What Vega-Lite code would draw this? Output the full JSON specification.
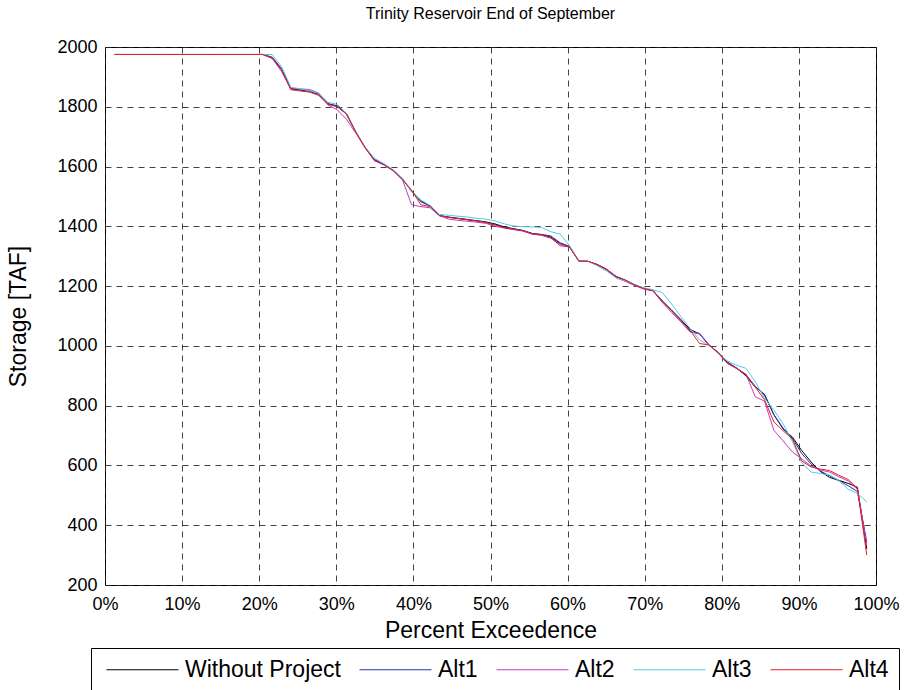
{
  "$schema": "https://vega.github.io/schema/vega-lite/v6.json",
  "width": 771,
  "height": 538,
  "autosize": "none",
  "padding": {"left": 105, "top": 47, "right": 33, "bottom": 105},
  "background": "white",
  "title": {"text": "Trinity Reservoir End of September", "fontSize": 16, "font": "Liberation Sans", "fontWeight": "normal", "color": "#000", "offset": 16, "anchor": "middle"},
  "data": {"values": [
    {"p": 1.20, "Without Project": 1975, "Alt1": 1975, "Alt2": 1975, "Alt3": 1975, "Alt4": 1975},
    {"p": 2.41, "Without Project": 1975, "Alt1": 1975, "Alt2": 1975, "Alt3": 1975, "Alt4": 1975},
    {"p": 3.61, "Without Project": 1975, "Alt1": 1975, "Alt2": 1975, "Alt3": 1975, "Alt4": 1975},
    {"p": 4.82, "Without Project": 1975, "Alt1": 1975, "Alt2": 1975, "Alt3": 1975, "Alt4": 1975},
    {"p": 6.02, "Without Project": 1975, "Alt1": 1975, "Alt2": 1975, "Alt3": 1975, "Alt4": 1975},
    {"p": 7.23, "Without Project": 1975, "Alt1": 1975, "Alt2": 1975, "Alt3": 1975, "Alt4": 1975},
    {"p": 8.43, "Without Project": 1975, "Alt1": 1975, "Alt2": 1975, "Alt3": 1975, "Alt4": 1975},
    {"p": 9.64, "Without Project": 1975, "Alt1": 1975, "Alt2": 1975, "Alt3": 1975, "Alt4": 1975},
    {"p": 10.84, "Without Project": 1975, "Alt1": 1975, "Alt2": 1975, "Alt3": 1975, "Alt4": 1975},
    {"p": 12.05, "Without Project": 1975, "Alt1": 1975, "Alt2": 1975, "Alt3": 1975, "Alt4": 1975},
    {"p": 13.25, "Without Project": 1975, "Alt1": 1975, "Alt2": 1975, "Alt3": 1975, "Alt4": 1975},
    {"p": 14.46, "Without Project": 1975, "Alt1": 1975, "Alt2": 1975, "Alt3": 1975, "Alt4": 1975},
    {"p": 15.66, "Without Project": 1975, "Alt1": 1975, "Alt2": 1975, "Alt3": 1975, "Alt4": 1975},
    {"p": 16.87, "Without Project": 1975, "Alt1": 1975, "Alt2": 1975, "Alt3": 1975, "Alt4": 1975},
    {"p": 18.07, "Without Project": 1975, "Alt1": 1975, "Alt2": 1975, "Alt3": 1975, "Alt4": 1975},
    {"p": 19.28, "Without Project": 1975, "Alt1": 1975, "Alt2": 1975, "Alt3": 1975, "Alt4": 1975},
    {"p": 20.48, "Without Project": 1975, "Alt1": 1975, "Alt2": 1975, "Alt3": 1975, "Alt4": 1975},
    {"p": 21.69, "Without Project": 1964, "Alt1": 1966, "Alt2": 1962, "Alt3": 1975, "Alt4": 1962},
    {"p": 22.89, "Without Project": 1925, "Alt1": 1928, "Alt2": 1918, "Alt3": 1935, "Alt4": 1924},
    {"p": 24.10, "Without Project": 1860, "Alt1": 1862, "Alt2": 1860, "Alt3": 1866, "Alt4": 1857},
    {"p": 25.30, "Without Project": 1856, "Alt1": 1858, "Alt2": 1860, "Alt3": 1860, "Alt4": 1853},
    {"p": 26.51, "Without Project": 1852, "Alt1": 1854, "Alt2": 1858, "Alt3": 1854, "Alt4": 1849},
    {"p": 27.71, "Without Project": 1842, "Alt1": 1843, "Alt2": 1846, "Alt3": 1845, "Alt4": 1838},
    {"p": 28.92, "Without Project": 1810, "Alt1": 1810, "Alt2": 1806, "Alt3": 1815, "Alt4": 1808},
    {"p": 30.12, "Without Project": 1803, "Alt1": 1802, "Alt2": 1790, "Alt3": 1808, "Alt4": 1800},
    {"p": 31.33, "Without Project": 1775, "Alt1": 1775, "Alt2": 1758, "Alt3": 1778, "Alt4": 1776},
    {"p": 32.53, "Without Project": 1716, "Alt1": 1716, "Alt2": 1712, "Alt3": 1718, "Alt4": 1715},
    {"p": 33.73, "Without Project": 1664, "Alt1": 1664, "Alt2": 1662, "Alt3": 1665, "Alt4": 1664},
    {"p": 34.94, "Without Project": 1622, "Alt1": 1624, "Alt2": 1620, "Alt3": 1628, "Alt4": 1620},
    {"p": 36.14, "Without Project": 1608, "Alt1": 1608, "Alt2": 1606, "Alt3": 1610, "Alt4": 1606},
    {"p": 37.35, "Without Project": 1588, "Alt1": 1588, "Alt2": 1586, "Alt3": 1590, "Alt4": 1587},
    {"p": 38.55, "Without Project": 1560, "Alt1": 1560, "Alt2": 1558, "Alt3": 1562, "Alt4": 1556},
    {"p": 39.76, "Without Project": 1518, "Alt1": 1518, "Alt2": 1472, "Alt3": 1515, "Alt4": 1521},
    {"p": 40.96, "Without Project": 1486, "Alt1": 1482, "Alt2": 1466, "Alt3": 1488, "Alt4": 1472},
    {"p": 42.17, "Without Project": 1468, "Alt1": 1468, "Alt2": 1462, "Alt3": 1470, "Alt4": 1466},
    {"p": 43.37, "Without Project": 1436, "Alt1": 1436, "Alt2": 1436, "Alt3": 1440, "Alt4": 1436},
    {"p": 44.58, "Without Project": 1431, "Alt1": 1430, "Alt2": 1424, "Alt3": 1437, "Alt4": 1430},
    {"p": 45.78, "Without Project": 1427, "Alt1": 1426, "Alt2": 1420, "Alt3": 1434, "Alt4": 1426},
    {"p": 46.99, "Without Project": 1423, "Alt1": 1422, "Alt2": 1417, "Alt3": 1431, "Alt4": 1422},
    {"p": 48.19, "Without Project": 1419, "Alt1": 1418, "Alt2": 1414, "Alt3": 1427, "Alt4": 1418},
    {"p": 49.40, "Without Project": 1415, "Alt1": 1413, "Alt2": 1410, "Alt3": 1424, "Alt4": 1413},
    {"p": 50.60, "Without Project": 1408, "Alt1": 1405, "Alt2": 1400, "Alt3": 1418, "Alt4": 1404},
    {"p": 51.81, "Without Project": 1398, "Alt1": 1396, "Alt2": 1394, "Alt3": 1408, "Alt4": 1395},
    {"p": 53.01, "Without Project": 1392, "Alt1": 1391, "Alt2": 1389, "Alt3": 1401, "Alt4": 1390},
    {"p": 54.22, "Without Project": 1386, "Alt1": 1386, "Alt2": 1384, "Alt3": 1399, "Alt4": 1385},
    {"p": 55.42, "Without Project": 1376, "Alt1": 1376, "Alt2": 1374, "Alt3": 1398, "Alt4": 1374},
    {"p": 56.63, "Without Project": 1372, "Alt1": 1373, "Alt2": 1370, "Alt3": 1396, "Alt4": 1371},
    {"p": 57.83, "Without Project": 1364, "Alt1": 1368, "Alt2": 1360, "Alt3": 1382, "Alt4": 1362},
    {"p": 59.04, "Without Project": 1342, "Alt1": 1345, "Alt2": 1340, "Alt3": 1374, "Alt4": 1335},
    {"p": 60.24, "Without Project": 1332, "Alt1": 1333, "Alt2": 1331, "Alt3": 1336, "Alt4": 1331},
    {"p": 61.45, "Without Project": 1284, "Alt1": 1284, "Alt2": 1284, "Alt3": 1286, "Alt4": 1284},
    {"p": 62.65, "Without Project": 1283, "Alt1": 1283, "Alt2": 1283, "Alt3": 1283, "Alt4": 1283},
    {"p": 63.86, "Without Project": 1272, "Alt1": 1272, "Alt2": 1270, "Alt3": 1268, "Alt4": 1272},
    {"p": 65.06, "Without Project": 1256, "Alt1": 1256, "Alt2": 1254, "Alt3": 1250, "Alt4": 1256},
    {"p": 66.27, "Without Project": 1232, "Alt1": 1233, "Alt2": 1228, "Alt3": 1228, "Alt4": 1232},
    {"p": 67.47, "Without Project": 1220, "Alt1": 1220, "Alt2": 1216, "Alt3": 1218, "Alt4": 1220},
    {"p": 68.67, "Without Project": 1205, "Alt1": 1204, "Alt2": 1202, "Alt3": 1206, "Alt4": 1204},
    {"p": 69.88, "Without Project": 1193, "Alt1": 1192, "Alt2": 1190, "Alt3": 1194, "Alt4": 1192},
    {"p": 71.08, "Without Project": 1185, "Alt1": 1185, "Alt2": 1184, "Alt3": 1188, "Alt4": 1184},
    {"p": 72.29, "Without Project": 1150, "Alt1": 1150, "Alt2": 1145, "Alt3": 1178, "Alt4": 1148},
    {"p": 73.49, "Without Project": 1120, "Alt1": 1118, "Alt2": 1112, "Alt3": 1140, "Alt4": 1117},
    {"p": 74.70, "Without Project": 1088, "Alt1": 1085, "Alt2": 1080, "Alt3": 1098, "Alt4": 1085},
    {"p": 75.90, "Without Project": 1055, "Alt1": 1048, "Alt2": 1046, "Alt3": 1058, "Alt4": 1052},
    {"p": 77.11, "Without Project": 1040, "Alt1": 1042, "Alt2": 1040, "Alt3": 1020, "Alt4": 1008},
    {"p": 78.31, "Without Project": 1003, "Alt1": 1005, "Alt2": 1003, "Alt3": 1003, "Alt4": 1003},
    {"p": 79.52, "Without Project": 978, "Alt1": 978, "Alt2": 976, "Alt3": 975, "Alt4": 978},
    {"p": 80.72, "Without Project": 945, "Alt1": 946, "Alt2": 942, "Alt3": 950, "Alt4": 941},
    {"p": 81.93, "Without Project": 925, "Alt1": 926, "Alt2": 924, "Alt3": 935, "Alt4": 925},
    {"p": 83.13, "Without Project": 900, "Alt1": 903, "Alt2": 905, "Alt3": 925, "Alt4": 905},
    {"p": 84.34, "Without Project": 862, "Alt1": 865, "Alt2": 830, "Alt3": 880, "Alt4": 862},
    {"p": 85.54, "Without Project": 838, "Alt1": 835, "Alt2": 815, "Alt3": 825, "Alt4": 820},
    {"p": 86.75, "Without Project": 770, "Alt1": 770, "Alt2": 718, "Alt3": 785, "Alt4": 746},
    {"p": 87.95, "Without Project": 722, "Alt1": 725, "Alt2": 682, "Alt3": 740, "Alt4": 716},
    {"p": 89.16, "Without Project": 695, "Alt1": 690, "Alt2": 645, "Alt3": 680, "Alt4": 688},
    {"p": 90.36, "Without Project": 650, "Alt1": 640, "Alt2": 622, "Alt3": 610, "Alt4": 615},
    {"p": 91.57, "Without Project": 612, "Alt1": 605, "Alt2": 598, "Alt3": 578, "Alt4": 595},
    {"p": 92.77, "Without Project": 580, "Alt1": 582, "Alt2": 585, "Alt3": 573, "Alt4": 588},
    {"p": 93.98, "Without Project": 560, "Alt1": 565, "Alt2": 578, "Alt3": 568, "Alt4": 583},
    {"p": 95.18, "Without Project": 550, "Alt1": 550, "Alt2": 562, "Alt3": 550, "Alt4": 567},
    {"p": 96.39, "Without Project": 540, "Alt1": 532, "Alt2": 548, "Alt3": 520, "Alt4": 553},
    {"p": 97.59, "Without Project": 527, "Alt1": 513, "Alt2": 520, "Alt3": 507, "Alt4": 523},
    {"p": 98.80, "Without Project": 320, "Alt1": 345, "Alt2": 335, "Alt3": 478, "Alt4": 300}
  ]},
  "transform": [{"fold": ["Without Project", "Alt1", "Alt2", "Alt3", "Alt4"], "as": ["series", "storage"]}],
  "mark": {"type": "line", "clip": true},
  "encoding": {
    "x": {
      "field": "p", "type": "quantitative",
      "scale": {"domain": [0, 100], "nice": false, "zero": false},
      "axis": {"values": [0, 10, 20, 30, 40, 50, 60, 70, 80, 90, 100], "labelExpr": "datum.value + '%'", "title": "Percent Exceedence", "labelPadding": 10, "titlePadding": 6, "labelFlush": false}
    },
    "y": {
      "field": "storage", "type": "quantitative",
      "scale": {"domain": [200, 2000], "nice": false, "zero": false},
      "axis": {"values": [200, 400, 600, 800, 1000, 1200, 1400, 1600, 1800, 2000], "format": "d", "title": "Storage [TAF]", "labelPadding": 8, "titlePadding": 26, "labelFlush": false}
    },
    "color": {
      "field": "series", "type": "nominal",
      "scale": {"domain": ["Without Project", "Alt1", "Alt2", "Alt3", "Alt4"], "range": ["#000000", "#2337b0", "#c23fb4", "#52cbe2", "#ea1c26"]},
      "legend": {"title": null, "orient": "none", "legendX": -14, "legendY": 601, "direction": "horizontal", "columns": 5}
    },
    "strokeWidth": {
      "field": "series", "type": "nominal",
      "scale": {"domain": ["Without Project", "Alt1", "Alt2", "Alt3", "Alt4"], "range": [1, 1, 1, 1.1, 1.6]},
      "legend": null
    }
  },
  "config": {
    "font": "Liberation Sans",
    "view": {"stroke": "#000", "strokeWidth": 1},
    "axis": {
      "labelFont": "Liberation Sans", "titleFont": "Liberation Sans",
      "labelFontSize": 18, "titleFontSize": 23, "titleFontWeight": "normal",
      "labelColor": "#000", "titleColor": "#000",
      "ticks": false, "domain": false,
      "grid": true, "gridColor": "#222", "gridDash": [6, 5], "gridWidth": 1, "gridOpacity": 0.85
    },
    "legend": {
      "symbolType": "M-6,0H6", "symbolSize": 144, "symbolStrokeWidth": 1.2,
      "labelFont": "Liberation Sans", "labelFontSize": 23, "labelColor": "#000",
      "symbolOffset": 30, "labelOffset": 31, "columnPadding": 13, "padding": 10,
      "strokeColor": "#000", "fillColor": "#fff"
    }
  }
}
